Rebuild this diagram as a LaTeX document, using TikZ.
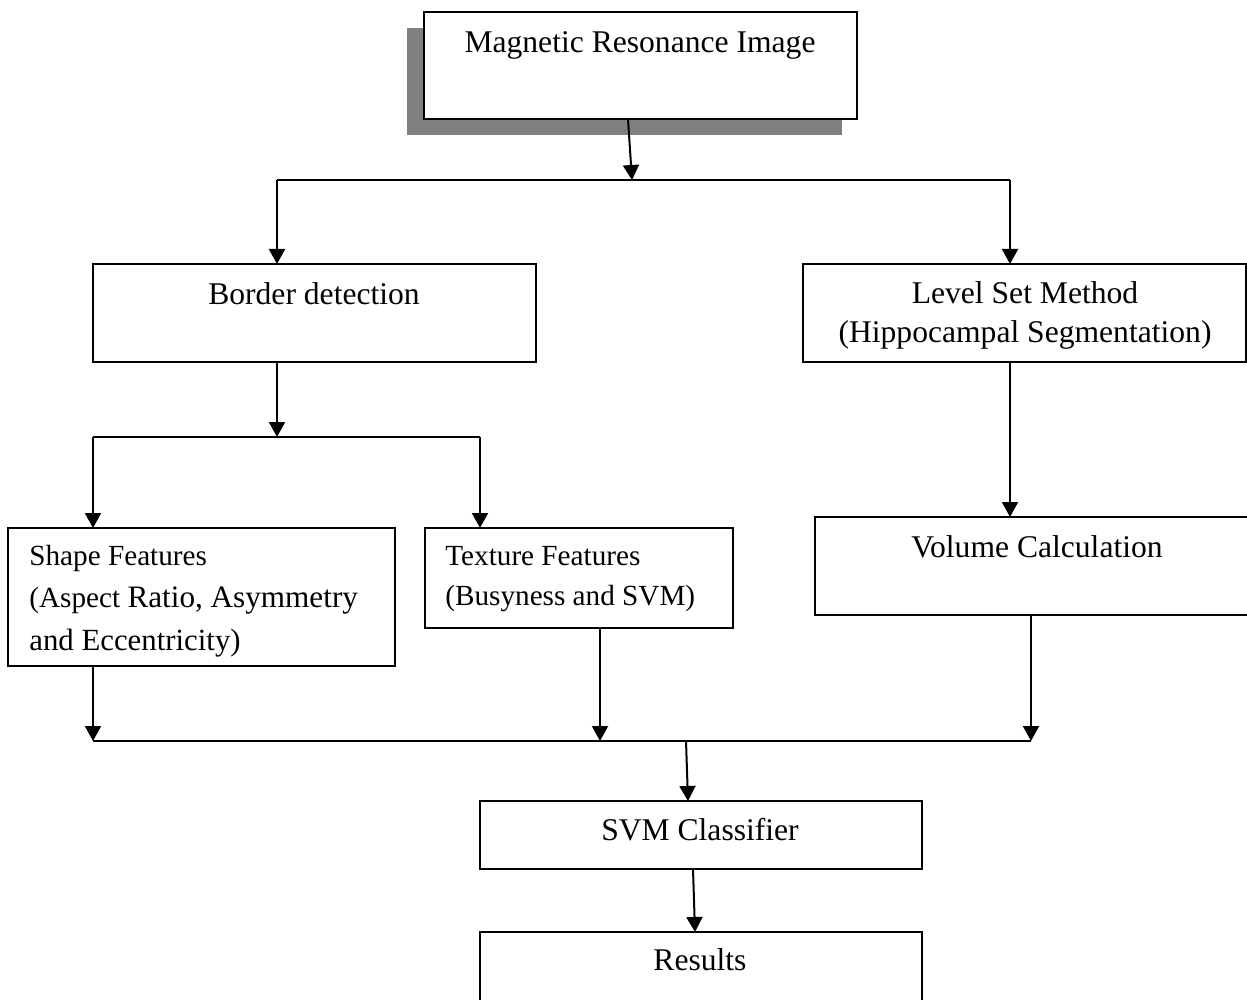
\documentclass[tikz,border=0pt]{standalone}
\usepackage{fontspec}
\setmainfont{Liberation Serif}
\usetikzlibrary{arrows.meta}
\begin{document}
\begin{tikzpicture}[x=0.5pt,y=-0.5pt,
  box/.style={draw, line width=1pt, fill=white, inner sep=0pt, outer sep=0pt, anchor=north west},
  arr/.style={line width=1pt, -{Triangle[length=7.5pt,width=8pt]}},
  conn/.style={line width=1pt},
  big/.style={font=\fontsize{15.8}{18}\selectfont, inner sep=0pt, anchor=base},
  small/.style={font=\fontsize{14.6}{17}\selectfont, inner sep=0pt, anchor=base west}]
\useasboundingbox (0,0) rectangle (1247,1000);
% shadow of top box
\fill[black!50] (407,28) rectangle (842,135);
% boxes
\node[box, minimum width=216.5pt, minimum height=53.5pt] (mri) at (424,12) {};
\node[box, minimum width=221.5pt, minimum height=49pt] (border) at (93,264) {};
\node[box, minimum width=221.5pt, minimum height=49pt] (level) at (803,264) {};
\node[box, minimum width=193.5pt, minimum height=69pt] (shape) at (8,528) {};
\node[box, minimum width=154pt, minimum height=50pt] (texture) at (425,528) {};
\node[box, minimum width=225pt, minimum height=49pt] (volume) at (815,517) {};
\node[box, minimum width=221pt, minimum height=34pt] (svm) at (480,801) {};
\node[box, minimum width=221pt, minimum height=40pt] (results) at (480,932) {};
% texts
\node[big] (tmri) at (640,53) {Magnetic Resonance Image};
\node[big] (tborder) at (314,305) {Border detection};
\node[big] (tlevel1) at (1025,303) {Level Set Method};
\node[big] (tlevel2) at (1025,342) {(Hippocampal Segmentation)};
\node[big] (tvol) at (1037,557) {Volume Calculation};
\node[small] (tshape1) at (29,565) {Shape Features};
\node[small] (tshape2) at (29,607) {(Aspect {\fontsize{15.6}{18}\selectfont Ratio, Asymmetry}};
\node[small, font=\fontsize{15.4}{18}\selectfont] (tshape3) at (29,650) {and Eccentricity)};
\node[small] (ttex1) at (445,565) {Texture Features};
\node[small] (ttex2) at (445,605) {(Busyness and SVM)};
\node[big] (tsvm) at (700,840) {SVM Classifier};
\node[big] (tres) at (700,970) {Results};
% connectors
\coordinate (tj) at (632,180);
\coordinate (hl) at (277,180);
\coordinate (hr) at (1010,180);
\draw[conn] (hl) -- (hr);
\draw[arr] (mri.south -| 628,0) -- (tj);
\draw[arr] (hl) -- (border.north -| hl);
\draw[arr] (hr) -- (level.north -| hr);
\coordinate (mj) at (277,437);
\coordinate (ml) at (93,437);
\coordinate (mr) at (480,437);
\draw[conn] (ml) -- (mr);
\draw[arr] (border.south -| mj) -- (mj);
\draw[arr] (ml) -- (shape.north -| ml);
\draw[arr] (mr) -- (texture.north -| mr);
\draw[arr] (level.south -| hr) -- (volume.north -| hr);
\coordinate (bl) at (93,741);
\coordinate (bm) at (600,741);
\coordinate (br) at (1031,741);
\coordinate (bj) at (686,741);
\draw[conn] (bl) -- (br);
\draw[arr] (shape.south -| bl) -- (bl);
\draw[arr] (texture.south -| bm) -- (bm);
\draw[arr] (volume.south -| br) -- (br);
\draw[arr] (bj) -- (svm.north -| 688,0);
\draw[arr] (svm.south -| 693,0) -- (results.north -| 695,0);
\end{tikzpicture}
\end{document}
